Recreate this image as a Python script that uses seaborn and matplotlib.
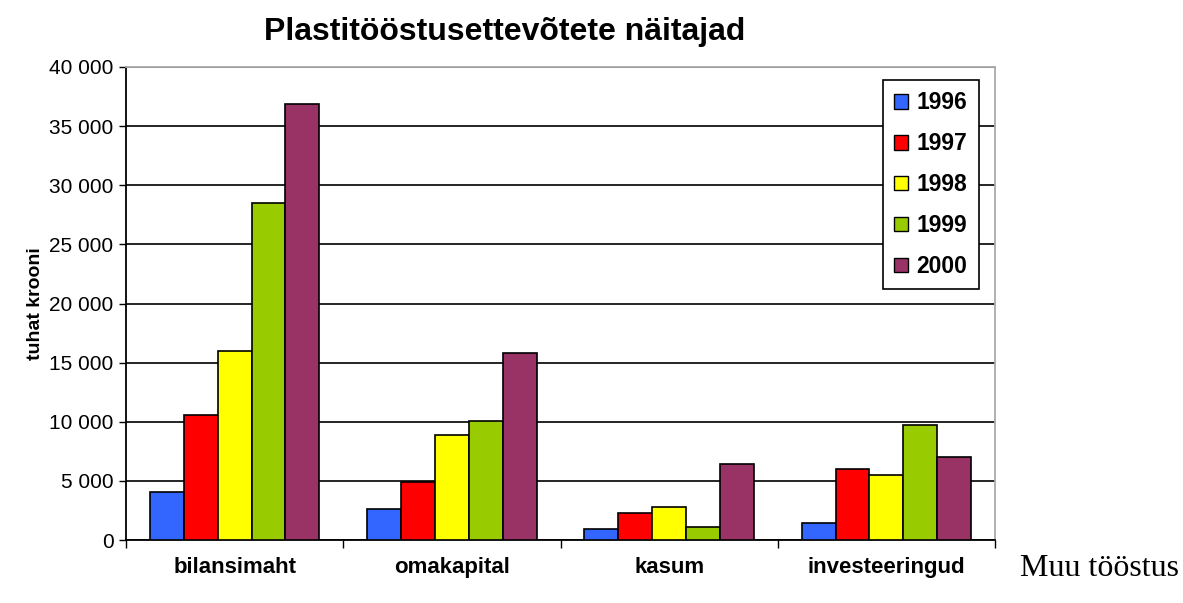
import matplotlib
matplotlib.use("Agg")
import matplotlib.pyplot as plt
import seaborn as sns
import pandas as pd
from matplotlib.ticker import FuncFormatter, FixedLocator

categories = ["bilansimaht", "omakapital", "kasum", "investeeringud"]
years = ["1996", "1997", "1998", "1999", "2000"]
v1996 = [4100, 2600, 950, 1450]
v1997 = [10600, 4900, 2300, 6000]
v1998 = [16000, 8900, 2800, 5500]
v1999 = [28500, 10100, 1100, 9750]
v2000 = [36850, 15850, 6400, 7050]
colors = ["#3366ff", "#ff0000", "#ffff00", "#99cc00", "#993366"]

series = [v1996, v1997, v1998, v1999, v2000]
rows = []
for y, vals in zip(years, series):
    for c, v in zip(categories, vals):
        rows.append({"cat": c, "year": y, "value": v})
df = pd.DataFrame(rows)

sns.set_theme(style="white")
plt.rcParams["font.family"] = ["Liberation Sans", "DejaVu Sans"]
for k in ["text.color", "axes.labelcolor", "xtick.color", "ytick.color"]:
    plt.rcParams[k] = "black"

fig = plt.figure(figsize=(11.83, 6.03), dpi=100)
ax = fig.add_axes([126/1183, 63/603, (995-126)/1183, (540-67)/603])

sns.barplot(data=df, x="cat", y="value", hue="year", order=categories,
            hue_order=years, palette=colors, width=0.78, dodge=True,
            edgecolor="black", linewidth=1.2, saturation=1, ax=ax, zorder=3)

ax.set_ylim(0, 40000)
ax.set_xlim(-0.5, 3.5)
ax.set_yticks(range(0, 40001, 5000))
ax.yaxis.set_major_formatter(FuncFormatter(lambda v, p: f"{int(v):,}".replace(",", " ")))
ax.yaxis.grid(True, color="black", linewidth=1.2, zorder=0)
ax.set_axisbelow(True)
ax.tick_params(axis="y", which="major", direction="out", length=5, width=1, color="black",
               labelsize=15, labelcolor="black", pad=4, left=True)
ax.tick_params(axis="x", which="major", length=0, labelsize=16, pad=12)
ax.xaxis.set_minor_locator(FixedLocator([-0.5, 0.5, 1.5, 2.5, 3.5]))
ax.tick_params(axis="x", which="minor", direction="out", length=6, width=1, color="black", bottom=True)
for lbl in ax.get_xticklabels():
    lbl.set_fontweight("bold")

ax.spines["left"].set_color("black")
ax.spines["bottom"].set_color("black")
ax.spines["top"].set_color("#aaaaaa")
ax.spines["right"].set_color("#aaaaaa")
for s in ax.spines.values():
    s.set_linewidth(1.3)

ax.set_xlabel("")
ax.set_ylabel("tuhat krooni", fontsize=14, fontweight="bold", labelpad=4)

fig.text(505/1183, 1 - 32/603, "Plastitööstusettevõtete näitajad",
         ha="center", va="center", fontsize=23, fontweight="bold")

leg = ax.legend(loc="upper left", bbox_to_anchor=((883-126)/869, (540-80)/473),
                frameon=True, fancybox=False, edgecolor="black", framealpha=1,
                handlelength=0.6, handleheight=0.6, handletextpad=0.35,
                labelspacing=0.78, borderpad=0.5, borderaxespad=0,
                prop={"weight": "bold", "size": 16.5})
leg.get_frame().set_linewidth(1.2)
for h in leg.legend_handles:
    h.set_edgecolor("black")
    h.set_linewidth(1)

fig.text(1020/1183, 1 - 568/603, "Muu tööstus", ha="left", va="center",
         fontsize=23, family=["Liberation Serif", "DejaVu Serif"])

fig.savefig("out.png", dpi=100)
